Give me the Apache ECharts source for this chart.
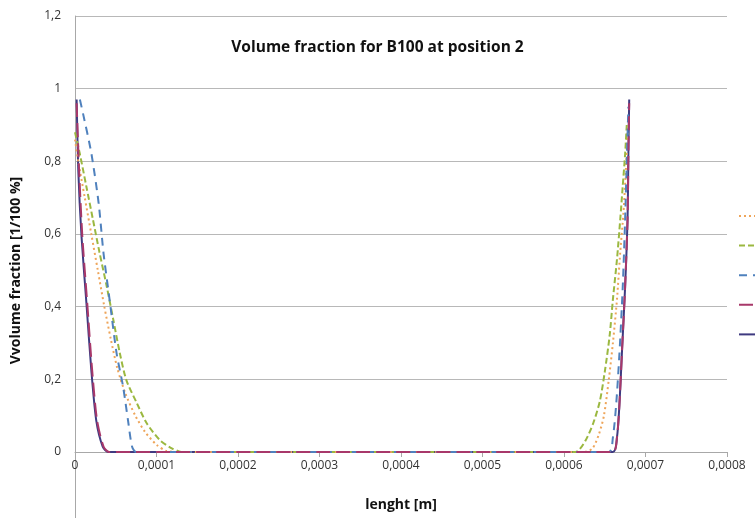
<!DOCTYPE html>
<html>
<head>
<meta charset="utf-8">
<script src="https://cdn.jsdelivr.net/npm/echarts@6/dist/echarts.min.js"></script>
<style>html,body{margin:0;padding:0;background:#fff}#c{width:755px;height:518px}</style>
</head>
<body>
<div id="c"></div>
<script>
const titleText = 'Volume fraction for B100 at position 2';
const xName = 'lenght [m]';
const yName = 'Vvolume fraction [1/100 %]';
const seriesNames = ['s1', 's2', 's3', 's4', 's5'];

const orangeData = [[0,0.86],[0.000004,0.8],[0.000012,0.7],[0.00002,0.6],[0.000028,0.5],[0.000036,0.4],[0.000044,0.31],[0.000052,0.23],[0.000062,0.16],[0.000074,0.1],[0.000086,0.055],[0.0001,0.02],[0.000112,0.003],[0.00013,0],[0.0003,0],[0.0005,0],[0.000625,0],[0.000635,0.01],[0.000643,0.05],[0.000649,0.1],[0.000655,0.2],[0.00066,0.3],[0.000665,0.42],[0.000669,0.55],[0.000673,0.66],[0.000676,0.78],[0.000678,0.88]];
const greenData = [[0,0.88],[0.000006,0.82],[0.000014,0.73],[0.000022,0.64],[0.00003,0.55],[0.000039,0.455],[0.000047,0.364],[0.000055,0.272],[0.000063,0.198],[0.000076,0.134],[0.000088,0.079],[0.000104,0.033],[0.000117,0.012],[0.00013,0],[0.00015,-0.005],[0.00018,0],[0.0003,0],[0.0005,0],[0.000614,0],[0.000626,0.03],[0.000636,0.08],[0.000644,0.14],[0.00065,0.22],[0.000656,0.32],[0.00066,0.42],[0.000665,0.53],[0.000669,0.64],[0.000672,0.73],[0.000675,0.82],[0.000677,0.9]];
const blueData = [[0.000006,0.97],[0.00001,0.93],[0.00002,0.823],[0.000029,0.685],[0.000035,0.547],[0.000043,0.41],[0.000051,0.272],[0.000059,0.18],[0.000065,0.088],[0.00007,0.015],[0.000075,0],[0.0003,0],[0.0005,0],[0.000655,0],[0.00066,0.04],[0.000664,0.13],[0.000668,0.27],[0.000672,0.45],[0.000675,0.64],[0.000677,0.8],[0.000679,0.95]];
const redData = [[0.000002,0.96],[0.000005,0.777],[0.000009,0.593],[0.000015,0.41],[0.000021,0.226],[0.000027,0.088],[0.000035,0.015],[0.000042,0],[0.0003,0],[0.0005,0],[0.00066,0],[0.000665,0.04],[0.000668,0.13],[0.000671,0.27],[0.000675,0.455],[0.000678,0.64],[0.000679,0.82],[0.00068,0.96]];
const darkData = [[0.000002,0.97],[0.000004,0.777],[0.000008,0.593],[0.000014,0.41],[0.00002,0.226],[0.000026,0.088],[0.000034,0.015],[0.000041,0],[0.0003,0],[0.0005,0],[0.00066,0],[0.000665,0.04],[0.000668,0.13],[0.000671,0.27],[0.000675,0.455],[0.000678,0.64],[0.000679,0.82],[0.00068,0.97]];

const font = '"Open Sans", "Liberation Sans", sans-serif';
const comma = v => String(parseFloat(Number(v).toFixed(6))).replace('.', ',');

const chart = echarts.init(document.getElementById('c'), null, {renderer: 'canvas'});
function mk(name, data, color, type, width) {
  return {
    name: name, type: 'line', data: data, showSymbol: false, symbol: 'none',
    smooth: 0.25, animation: false, xAxisIndex: 0, yAxisIndex: 0,
    lineStyle: {color: color, type: type, width: width},
    itemStyle: {color: color}
  };
}
chart.setOption({
  animation: false,
  backgroundColor: '#fff',
  title: {
    text: titleText, left: 'center', top: 35,
    textStyle: {fontFamily: font, fontSize: 15.5, fontWeight: 'bold', color: '#111'}
  },
  legend: {
    orient: 'vertical', left: 733, top: 204, itemWidth: 25, itemHeight: 14, itemGap: 17,
    formatter: () => '', data: seriesNames,
    itemStyle: {opacity: 0, color: 'rgba(0,0,0,0)', borderWidth: 0},
    textStyle: {fontSize: 1}
  },
  grid: [
    {left: 75, right: 28, top: 16, bottom: 66, containLabel: false, outerBoundsMode: 'none'},
    {left: 75, right: 28, top: 16, bottom: -7, containLabel: false, outerBoundsMode: 'none'}
  ],
  xAxis: [{
    gridIndex: 0, type: 'value', min: 0, max: 0.0008, interval: 0.0001,
    name: xName, nameLocation: 'middle', nameGap: 46,
    nameTextStyle: {fontFamily: font, fontSize: 14, fontWeight: 'bold', color: '#111'},
    axisLine: {onZero: false, lineStyle: {color: '#a8a8a8', width: 1}},
    axisTick: {show: true, length: 5, lineStyle: {color: '#a8a8a8'}},
    axisLabel: {fontFamily: font, fontSize: 12, color: '#333', margin: 8, formatter: comma},
    splitLine: {show: false}
  }, {
    gridIndex: 1, type: 'value', min: 0, max: 0.0008, show: false
  }],
  yAxis: [{
    gridIndex: 0, type: 'value', min: 0, max: 1.2, interval: 0.2,
    axisLine: {show: false},
    axisTick: {show: false},
    axisLabel: {fontFamily: font, fontSize: 12, color: '#333', margin: 14, formatter: comma},
    splitLine: {show: true, lineStyle: {color: '#b8b8b8', width: 1}}
  }, {
    gridIndex: 1, type: 'value', min: -0.2, max: 1.2, interval: 0.2,
    name: yName, nameLocation: 'middle', nameGap: 52, nameRotate: 90,
    nameTextStyle: {fontFamily: font, fontSize: 14, fontWeight: 'bold', color: '#111'},
    axisLine: {show: true, onZero: false, lineStyle: {color: '#a8a8a8', width: 1}},
    axisTick: {show: false},
    axisLabel: {show: false},
    splitLine: {show: false}
  }],
  series: [
    mk(seriesNames[4], darkData, '#3f3a80', 'solid', 2),
    mk(seriesNames[0], orangeData, '#eea55a', [2, 3], 2),
    mk(seriesNames[1], greenData, '#9bb840', [6, 3], 2),
    mk(seriesNames[2], blueData, '#4f81bd', [8, 6], 2),
    mk(seriesNames[3], redData, '#a8386a', [14, 6], 2)
  ]
});
</script>
</body>
</html>
